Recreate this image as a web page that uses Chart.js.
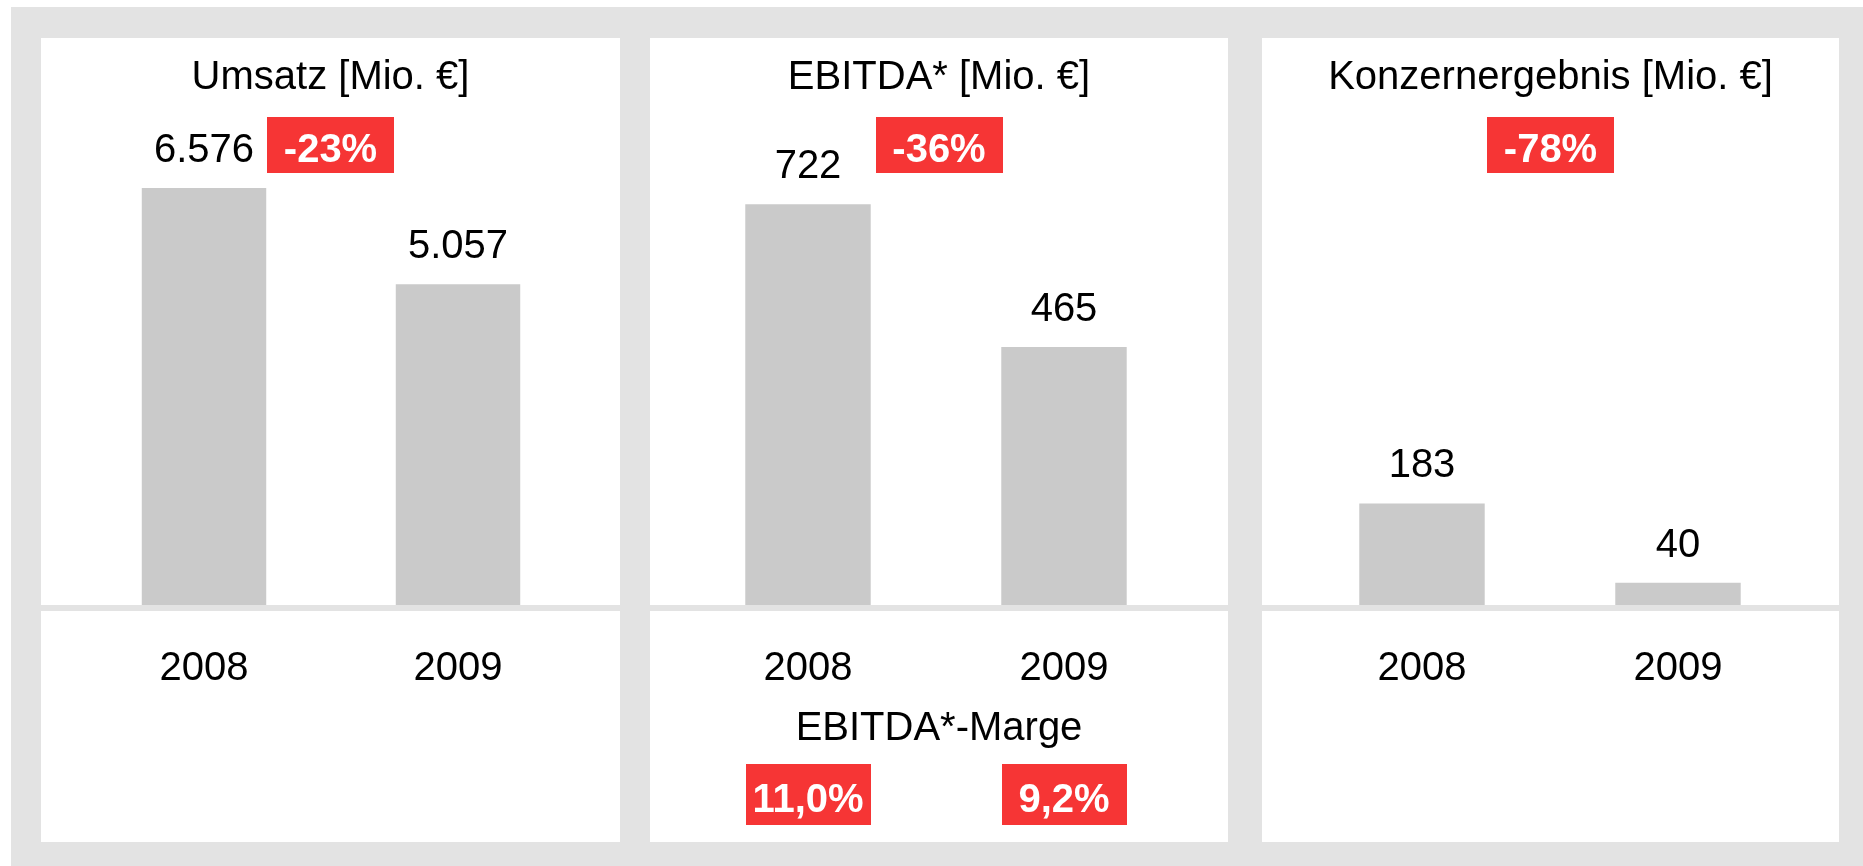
<!DOCTYPE html>
<html>
<head>
<meta charset="utf-8">
<script src="https://cdn.jsdelivr.net/npm/chart.js@4.4.1/dist/chart.umd.min.js"></script>
<style>
  html, body { margin: 0; padding: 0; background: #ffffff; width: 1863px; height: 866px; overflow: hidden; }
  #bg { position: absolute; left: 11px; top: 7px; width: 1852px; height: 859px; background: #e3e3e3; }
  .panel { position: absolute; top: 38px; height: 804px; background: #ffffff; }
  canvas { display: block; }
</style>
</head>
<body>
<div id="bg"></div>
<div class="panel" style="left:41px;width:579px"><canvas id="c0" width="579" height="804"></canvas></div>
<div class="panel" style="left:650px;width:578px"><canvas id="c1" width="578" height="804"></canvas></div>
<div class="panel" style="left:1262px;width:577px"><canvas id="c2" width="577" height="804"></canvas></div>
<script>
// ---- data ----
const years = ['2008', '2009'];
const umsatz = [6576, 5057];
const ebitda = [722, 465];
const konzernergebnis = [183, 40];
const titles = ['Umsatz [Mio. €]', 'EBITDA* [Mio. €]', 'Konzernergebnis [Mio. €]'];
const changes = ['-23%', '-36%', '-78%'];
const axisMax = [7000, 800, 800];
const margeTitle = 'EBITDA*-Marge';
const ebitdaMarge = [11.0, 9.2];

// ---- styling ----
const FONT = '"Liberation Sans", Arial, Helvetica, sans-serif';
const BAR = '#cacaca';
const RED = '#f63535';
const LINE = '#e3e3e3';
const PADS = [
  { left: 36, right: 35, top: 123, bottom: 237 },
  { left: 30, right: 36, top: 123, bottom: 237 },
  { left: 32, right: 33, top: 123, bottom: 237 }
];

function fmtThousands(v) {
  return String(v).replace(/\B(?=(\d{3})+(?!\d))/g, '.');
}
function fmtPct(v) {
  return v.toFixed(1).replace('.', ',') + '%';
}

function badge(ctx, cx, top, w, h, text, baselineOff) {
  ctx.save();
  ctx.fillStyle = RED;
  ctx.fillRect(Math.round(cx - w / 2), top, w, h);
  ctx.fillStyle = '#ffffff';
  ctx.font = 'bold 40px ' + FONT;
  ctx.textAlign = 'center';
  ctx.textBaseline = 'alphabetic';
  ctx.fillText(text, cx, top + baselineOff);
  ctx.restore();
}

const panelPlugin = {
  id: 'panelDecor',
  afterDatasetsDraw(chart) {
    const ctx = chart.ctx;
    const idx = chart.options.plugins.panelDecor.index;
    const xs = chart.scales.x, ys = chart.scales.y;
    const W = chart.width;
    const zero = ys.getPixelForValue(0);
    const data = chart.data.datasets[0].data;

    // baseline strip
    ctx.save();
    ctx.fillStyle = LINE;
    ctx.fillRect(0, zero, W, 6);
    ctx.restore();

    ctx.save();
    ctx.fillStyle = '#000000';
    ctx.font = '40px ' + FONT;
    ctx.textAlign = 'center';
    ctx.textBaseline = 'alphabetic';
    ctx.fillText(titles[idx], W / 2, 51);
    data.forEach((v, i) => {
      const x = xs.getPixelForValue(i);
      ctx.fillText(fmtThousands(v), x, ys.getPixelForValue(v) - 26);
      ctx.fillText(years[i], x, zero + 75);
    });
    ctx.restore();

    // change badge centred in the panel
    badge(ctx, W / 2, 79, 127, 56, changes[idx], 45);

    // EBITDA margin (middle panel only)
    if (idx === 1) {
      ctx.save();
      ctx.fillStyle = '#000000';
      ctx.font = '40px ' + FONT;
      ctx.textAlign = 'center';
      ctx.fillText(margeTitle, W / 2, 702);
      ctx.restore();
      ebitdaMarge.forEach((m, i) => {
        badge(ctx, xs.getPixelForValue(i), 726, 125, 61, fmtPct(m), 48);
      });
    }
  }
};

const series = [umsatz, ebitda, konzernergebnis];
series.forEach((vals, idx) => {
  new Chart(document.getElementById('c' + idx), {
    type: 'bar',
    data: {
      labels: years,
      datasets: [{
        data: vals,
        backgroundColor: BAR,
        borderWidth: 0,
        barPercentage: 0.49,
        categoryPercentage: 1.0
      }]
    },
    options: {
      responsive: false,
      animation: false,
      devicePixelRatio: 1,
      layout: { padding: PADS[idx] },
      plugins: {
        legend: { display: false },
        tooltip: { enabled: false },
        panelDecor: { index: idx }
      },
      scales: {
        x: { display: false, offset: true },
        y: { display: false, min: 0, max: axisMax[idx] }
      }
    },
    plugins: [panelPlugin]
  });
});
</script>
</body>
</html>
